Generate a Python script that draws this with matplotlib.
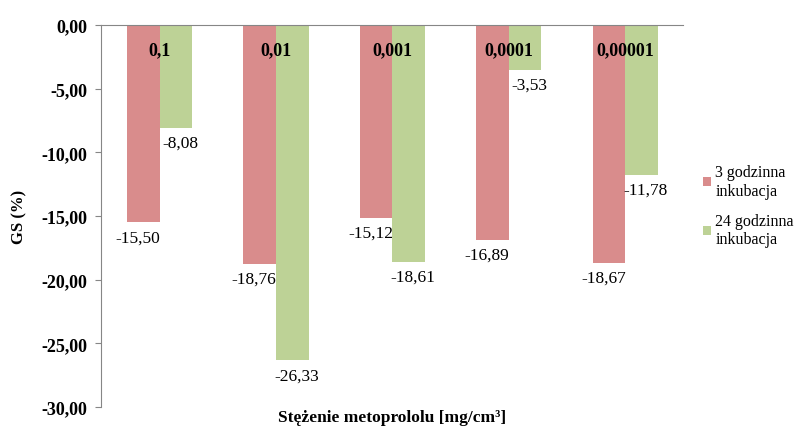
import matplotlib
matplotlib.use("Agg")
import matplotlib.pyplot as plt
import numpy as np
from matplotlib.ticker import FuncFormatter

plt.rcParams['font.family'] = 'serif'
plt.rcParams['font.serif'] = ['Liberation Serif', 'DejaVu Serif']

# stężenia metoprololu i wyniki GS dla obu czasów inkubacji
stezenia = ['0,1', '0,01', '0,001', '0,0001', '0,00001']
gs_3h = [-15.50, -18.76, -15.12, -16.89, -18.67]
gs_24h = [-8.08, -26.33, -18.61, -3.53, -11.78]
serie = ['3 godzinna\ninkubacja', '24 godzinna\ninkubacja']

kolor_3h = '#D98C8C'
kolor_24h = '#BDD296'

fig = plt.figure(figsize=(8.04, 4.31), dpi=100)
ax = fig.add_axes([0.126, 0.053, 0.724, 0.887])

x = np.arange(len(stezenia))
w = 0.28
b1 = ax.bar(x - w / 2, gs_3h, w, color=kolor_3h, label=serie[0])
b2 = ax.bar(x + w / 2, gs_24h, w, color=kolor_24h, label=serie[1])

def fmt(v):
    return ('%.2f' % v).replace('.', ',')

# etykiety wartości pod słupkami
for rect, v in zip(b1, gs_3h):
    ax.annotate(fmt(v), (rect.get_x() + rect.get_width() / 2, v),
                xytext=(-4, -5), textcoords='offset points',
                ha='center', va='top', fontsize=12.5)
for rect, v in zip(b2, gs_24h):
    ax.annotate(fmt(v), (rect.get_x() + rect.get_width() / 2, v),
                xytext=(3, -5), textcoords='offset points',
                ha='center', va='top', fontsize=12.5)

# nazwy kategorii wewnątrz wykresu
for xi, s in zip(x, stezenia):
    ax.text(xi, -1.95, s, ha='center', va='center', fontsize=13,
            fontweight='bold')

ax.set_xlim(-0.5, len(stezenia) - 0.5)
ax.set_ylim(-30, 0)
ax.set_yticks(np.arange(-30, 0.1, 5))
ax.yaxis.set_major_formatter(FuncFormatter(lambda v, p: fmt(v)))
ax.set_xticks([])
for lab in ax.get_yticklabels():
    lab.set_fontweight('bold')
ax.tick_params(axis='y', labelsize=13, length=4, color='#868686', pad=6)

for s in ['right', 'bottom']:
    ax.spines[s].set_visible(False)
for s in ['left', 'top']:
    ax.spines[s].set_color('#868686')

ax.set_ylabel('GS (%)', fontsize=12, fontweight='bold', labelpad=10)
ax.set_xlabel('Stężenie metoprololu [mg/cm³]', fontsize=12.5,
              fontweight='bold', labelpad=1)

fig.legend(handles=[b1, b2], loc='center left', bbox_to_anchor=(0.866, 0.52),
           frameon=False, fontsize=11.5, handlelength=0.5, handleheight=0.5,
           handletextpad=0.3, labelspacing=0.9, borderaxespad=0)

fig.savefig('out.png', dpi=100)
